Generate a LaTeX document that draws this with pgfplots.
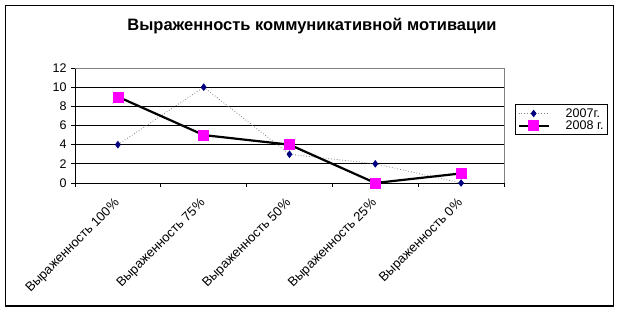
\documentclass[border=0pt]{standalone}
\usepackage{fontspec}
\setmainfont{Liberation Sans}
\usepackage{pgfplots}
\pgfplotsset{compat=1.18}
\definecolor{navy}{RGB}{0,0,128}
\definecolor{mag}{RGB}{255,0,255}
\begin{document}
\begin{tikzpicture}
\useasboundingbox (0,0) rectangle (619bp,312bp);
\draw[black, line width=1.3bp] (5.5bp,6bp) rectangle (613.5bp,306.5bp);
\node[font=\fontsize{16.5bp}{18bp}\selectfont\bfseries] at (312bp,286bp) {Выраженность коммуникативной мотивации};
\begin{axis}[
  at={(75bp,129bp)}, anchor=south west,
  scale only axis, width=429bp, height=115bp,
  xmin=0.5, xmax=5.5, ymin=0, ymax=12,
  axis lines=left, axis line style={-, black, line width=0.8bp},
  ytick={0,2,...,12},
  xtick={1,2,3,4,5},
  xticklabels={Выраженность 100\%, Выраженность 75\%, Выраженность 50\%, Выраженность 25\%, Выраженность 0\%},
  minor xtick={0.5,1.5,2.5,3.5,4.5,5.5},
  major x tick style={draw=none},
  minor x tick style={black, line width=0.8bp},
  y tick style={black, line width=0.8bp},
  tick align=outside, major tick length=4bp, minor tick length=4bp,
  ymajorgrids, grid style={black, line width=0.8bp},
  /pgf/number format/assume math mode=true,
  yticklabel style={font=\fontsize{12.5bp}{14bp}\selectfont, xshift=-1bp},
  xticklabel style={font=\fontsize{13bp}{15bp}\selectfont, rotate=45, anchor=east, xshift=-7bp, yshift=-10bp},
  legend style={at={(1.026,0.687)}, anchor=north west, draw=black, line width=0.8bp,
    font=\fontsize{12.5bp}{14bp}\selectfont, inner sep=2bp, row sep=-2bp},
  legend cell align=left,
  legend image code/.code={\draw[mark repeat=2,mark phase=2,#1] plot coordinates {(0bp,0bp) (15bp,0bp) (30bp,0bp)}; \path (44bp,0bp);},
  after end axis/.code={\draw[gray, line width=0.8bp] (rel axis cs:0,1) -- (rel axis cs:1,1) -- (rel axis cs:1,0);},
  clip=false,
]
\addplot[gray, dotted, line width=0.8bp, mark=diamond*, mark size=3.2bp, mark options={solid, fill=navy, draw=navy}]
  coordinates {(1,4) (2,10) (3,3) (4,2) (5,0)};
\addlegendentry{2007г.}
\addplot[black, line width=2.2bp, mark=square*, mark size=5bp, mark options={solid, fill=mag, draw=mag, line width=0.5bp}]
  coordinates {(1,9) (2,5) (3,4) (4,0) (5,1)};
\addlegendentry{2008 г.}
\end{axis}
\end{tikzpicture}
\end{document}
